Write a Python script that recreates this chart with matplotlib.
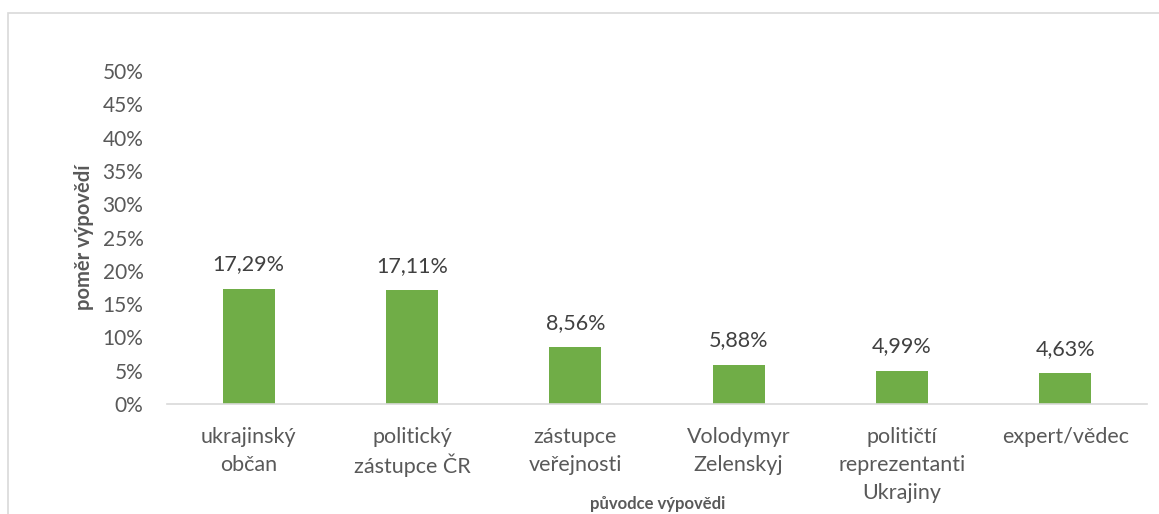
import matplotlib.pyplot as plt
import matplotlib.patches as mpatches
from matplotlib.transforms import offset_copy
import numpy as np

categories = ["ukrajinský\nobčan", "politický\nzástupce ČR", "zástupce\nveřejnosti",
              "Volodymyr\nZelenskyj", "političtí\nreprezentanti\nUkrajiny", "expert/vědec"]
values = [17.29, 17.11, 8.56, 5.88, 4.99, 4.63]
yticks = [0, 5, 10, 15, 20, 25, 30, 35, 40, 45, 50]

plt.rcParams['font.family'] = ['Lato', 'DejaVu Sans']
grey = '#595959'

fig = plt.figure(figsize=(11.59, 5.14), dpi=100)
ax = fig.add_axes([167 / 1159, 1 - 404 / 514, 980 / 1159, 333 / 514])

x = np.arange(len(values))
ax.bar(x, values, width=0.32, color='#70ad47', zorder=2)
for xi, v in zip(x, values):
    ax.annotate(f"{v:.2f}%".replace('.', ','), (xi, v), xytext=(0, 17.5),
                textcoords='offset points', ha='center', va='center',
                fontsize=15.5, color='#404040')

ax.set_xlim(-0.5, len(values) - 0.5)
ax.set_ylim(0, 50)
ax.set_yticks(yticks)
ax.set_yticklabels([f"{t}%" for t in yticks], fontsize=15, color=grey)
ax.set_xticks(x)
ax.set_xticklabels([])
ax.tick_params(axis='both', length=0)
ax.tick_params(axis='y', pad=17)

# category labels, line by line so spacing stays even
trans = ax.get_xaxis_transform()
for xi, lab in zip(x, categories):
    for j, line in enumerate(lab.split('\n')):
        t = offset_copy(trans, fig=fig, x=0, y=-(33 + 28 * j) * 72 / 100, units='points')
        ax.text(xi, 0, line, transform=t, ha='center', va='center',
                fontsize=15.5, color=grey)

for s in ['top', 'right', 'left']:
    ax.spines[s].set_visible(False)
ax.spines['bottom'].set_color('#d9d9d9')
ax.spines['bottom'].set_linewidth(1.2)

ax.set_ylabel("poměr výpovědí", fontsize=14.5, fontweight='bold', color=grey, labelpad=6)
fig.text(0.5675, 1 - 504 / 514, "původce výpovědi", fontsize=12, fontweight='bold',
         color=grey, ha='center', va='center')

# chart area border
fig.patches.append(mpatches.Rectangle((8 / 1159, -0.1), 1.2, 1 - 13 / 514 + 0.1,
                                      transform=fig.transFigure, fill=False,
                                      edgecolor='#d9d9d9', linewidth=1.2))

fig.savefig('out.png', dpi=100)
